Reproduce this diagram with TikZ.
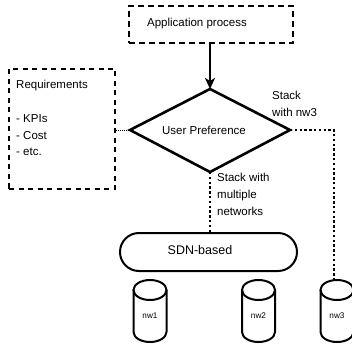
\documentclass[tikz,border=0pt]{standalone}
\usepackage{fontspec}
\setmainfont{Liberation Sans}
\usetikzlibrary{arrows.meta,shapes.geometric,shapes.misc}
\begin{document}
\begin{tikzpicture}[x=1pt,y=-1pt,
  lbl/.style={font=\fontsize{11.5}{16.8}\selectfont, align=left, inner sep=0pt},
  thickdot/.style={line width=2.6pt, dash pattern=on 2.4pt off 2.4pt},
  cyl/.style={line width=2pt}]
\useasboundingbox (0,0) rectangle (352,344);
\clip (0,0) rectangle (352,344);
% Application process
\node (app) [draw, line width=2.6pt, dash pattern=on 6pt off 4pt, minimum width=164pt, minimum height=37pt, inner sep=0pt] at (211,24.5) {};
\node [lbl] at (197,24) {Application process};
% Diamond
\coordinate (dT) at (210,89);
\coordinate (dL) at (130,130);
\coordinate (dR) at (290,130);
\coordinate (dB) at (210,172);
\draw[line width=2.6pt, line join=miter] (dT) -- (dR) -- (dB) -- (dL) -- cycle;
\node (up) [lbl] at (204,130) {User Preference};
% arrow
\draw[line width=2.6pt, -{Stealth[length=11pt,width=10pt,inset=3pt]}] (app.south -| dT) -- (dT);
% Requirements box
\node (req) [draw, line width=1.3pt, dash pattern=on 5pt off 4.5pt, minimum width=106pt, minimum height=120pt, inner sep=0pt] at (62,129) {};
\node [lbl, anchor=north west] at (16,80) {Requirements\\[17pt]- KPIs\\- Cost\\- etc.};
\draw[line width=0.9pt, dash pattern=on 1pt off 1pt] (req.east |- dL) -- (dL);
% SDN-based
\node (sdn) [draw, line width=2pt, rounded rectangle, minimum width=177pt, minimum height=38pt, inner sep=0pt] at (208.5,252) {};
\node [lbl] at (200,250) {\fontsize{12.5}{15}\selectfont SDN-based};
\draw[thickdot] (dB) -- (dB |- sdn.north);
\node [lbl, anchor=north west] at (217,173) {Stack with\\multiple\\networks};
% Cylinders
\foreach \n/\cx in {nw1/150,nw2/258.5,nw3/337} {
  \draw[cyl] (\cx-16.5,290) -- (\cx-16.5,332) arc[start angle=180,end angle=0,x radius=16.5,y radius=10] -- (\cx+16.5,290);
  \draw[cyl] (\cx,290) ellipse[x radius=16.5, y radius=10];
  \node (\n) [font=\fontsize{8.2}{10}\selectfont, inner sep=0pt] at (\cx,316) {\n};
  \coordinate (\n top) at (\cx,280);
}
\coordinate (corner) at (334,130);
\draw[thickdot] (dR) -- (corner) -- (corner |- nw3top);
\node [lbl, anchor=north west] at (272,91) {Stack\\with nw3};
\end{tikzpicture}
\end{document}
